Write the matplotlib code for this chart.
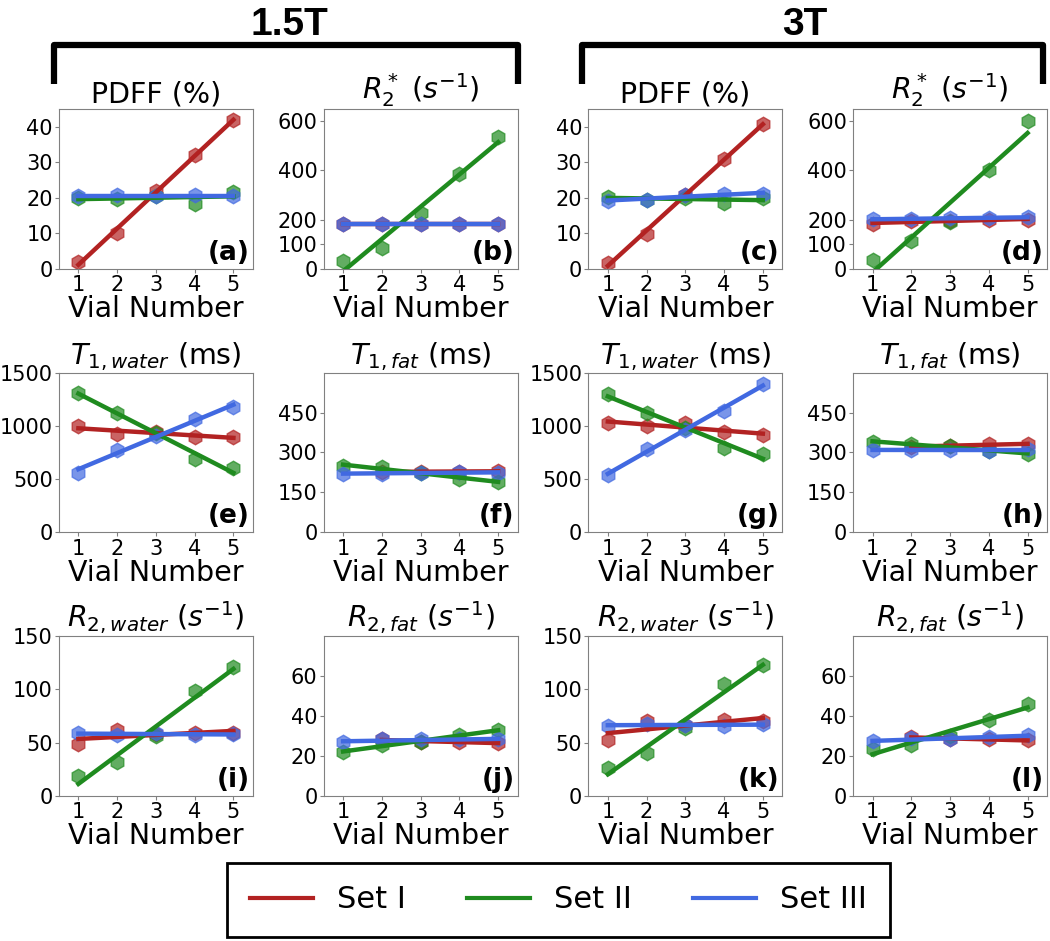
import numpy as np
import matplotlib
matplotlib.use("Agg")
import matplotlib.pyplot as plt
from matplotlib.lines import Line2D

plt.rcParams['font.family'] = ['DejaVu Sans']
plt.rcParams['mathtext.fontset'] = 'dejavusans'

# vial numbers
vials = np.array([1, 2, 3, 4, 5])
set_names = ['Set I', 'Set II', 'Set III']
set_colors = ['#b22222', '#1f8b1f', '#4169e1']

# panel titles, letters, y ranges and ticks (columns: 1.5T pdff, 1.5T r2*, 3T pdff, 3T r2*)
titles = [r'PDFF (%)', r'$R_2^*$ $(s^{-1})$', r'PDFF (%)', r'$R_2^*$ $(s^{-1})$',
          r'$T_{1,water}$ (ms)', r'$T_{1,fat}$ (ms)', r'$T_{1,water}$ (ms)', r'$T_{1,fat}$ (ms)',
          r'$R_{2,water}$ $(s^{-1})$', r'$R_{2,fat}$ $(s^{-1})$', r'$R_{2,water}$ $(s^{-1})$', r'$R_{2,fat}$ $(s^{-1})$']
letters = ['(a)', '(b)', '(c)', '(d)', '(e)', '(f)', '(g)', '(h)', '(i)', '(j)', '(k)', '(l)']
ylims = [45, 650, 45, 650, 1500, 600, 1500, 600, 150, 80, 150, 80]
yticks = [[0, 10, 20, 30, 40], [0, 100, 200, 400, 600], [0, 10, 20, 30, 40], [0, 100, 200, 400, 600],
          [0, 500, 1000, 1500], [0, 150, 300, 450], [0, 500, 1000, 1500], [0, 150, 300, 450],
          [0, 50, 100, 150], [0, 20, 40, 60], [0, 50, 100, 150], [0, 20, 40, 60]]

nan = np.nan
# measured values per panel: [Set I, Set II, Set III]
pdff_15 = [[1.8, 10.1, 21.9, 32.0, 41.9], [19.9, 19.7, 20.5, 18.3, 21.6], [20.5, 20.8, 20.5, 20.8, 20.5]]
r2s_15 = [[183, 184, 183, 184, 183], [30, 84, 225, 387, 535], [183, 183, 183, 183, 183]]
pdff_3 = [[1.6, 9.7, 20.8, 30.8, 40.9], [20.3, 19.4, 20.0, 18.6, 19.9], [19.2, 19.4, 20.8, 21.0, 21.1]]
r2s_3 = [[182, 195, 195, 200, 200], [37, 114, 189, 400, 603], [202, 202, 206, 206, 210]]
t1w_15 = [[999, 924, 940, 899, 899], [1312, 1124, 930, 686, 601], [561, 774, 908, 1062, 1174]]
t1f_15 = [[nan, 228, 227, 228, 230], [250, 244, 224, 202, 190], [221, 221, 222, 227, 224]]
t1w_3 = [[1030, 999, 1030, 946, 914], [1297, 1124, 977, 789, 733], [539, 783, 961, 1143, 1394]]
t1f_3 = [[nan, 322, 325, 330, 332], [340, 331, 324, 305, 296], [311, 309, 309, 306, 312]]
r2w_15 = [[48.6, 61.5, 58.0, 59.6, 59.0], [18.8, 32.3, 56.5, 98.2, 120.8], [59.0, 57.4, 59.0, 57.4, 58.0]]
r2f_15 = [[nan, 28.3, 27.2, 26.8, 26.7], [22.2, 25.5, 26.8, 30.5, 33.0], [26.8, 28.3, 28.3, 28.3, 28.3]]
r2w_3 = [[52.7, 70.0, 66.8, 71.0, 70.0], [26.7, 40.2, 64.3, 105.0, 122.7], [65.9, 67.8, 66.8, 65.3, 67.8]]
r2f_3 = [[nan, 29.7, 28.3, 28.3, 28.0], [23.3, 25.5, 30.0, 38.0, 46.3], [27.5, 28.8, 28.3, 29.3, 30.5]]

panels = [pdff_15, r2s_15, pdff_3, r2s_3,
          t1w_15, t1f_15, t1w_3, t1f_3,
          r2w_15, r2f_15, r2w_3, r2f_3]

fig = plt.figure(figsize=(10.5, 9.41), dpi=100)
gs = fig.add_gridspec(3, 4, left=0.0562, right=0.9971, top=0.8842, bottom=0.1541,
                      wspace=0.366, hspace=0.65)

for k, data in enumerate(panels):
    ax = fig.add_subplot(gs[k // 4, k % 4])
    for vals, c in zip(data, set_colors):
        y = np.array(vals, dtype=float)
        ok = ~np.isnan(y)
        ax.plot(vials[ok], y[ok], 'h', color=c, alpha=0.7, markersize=10.5, zorder=2)
        # linear fit through the measured points
        p = np.polyfit(vials[ok], y[ok], 1)
        ax.plot(vials[ok], np.polyval(p, vials[ok]), '-', color=c, lw=3.2, zorder=3)
    ax.set_xlim(0.5, 5.5)
    ax.set_ylim(0, ylims[k])
    ax.set_xticks(vials)
    ax.set_yticks(yticks[k])
    ax.tick_params(labelsize=15, length=3, color='#808080', pad=1.5)
    for s in ax.spines.values():
        s.set_color('#808080')
    ax.set_title(titles[k], fontsize=20.5, pad=5)
    ax.set_xlabel('Vial Number', fontsize=20.5, labelpad=0)
    ax.text(0.985, 0.02, letters[k], transform=ax.transAxes, ha='right', va='bottom',
            fontsize=19, fontweight='bold')

# brackets and field strength titles (figure pixel coords -> fraction)
W, H = 1050.0, 941.0
for x0, x1 in [(54, 518), (582, 1043)]:
    fig.add_artist(Line2D([x0 / W, x0 / W, x1 / W, x1 / W],
                          [1 - 84 / H, 1 - 45 / H, 1 - 45 / H, 1 - 84 / H],
                          color='black', lw=4.5, solid_joinstyle='round',
                          solid_capstyle='butt', transform=fig.transFigure))
fig.text(289.5 / W, 1 - 35 / H, '1.5T', ha='center', va='baseline', fontsize=28,
         fontweight='bold', family=['Liberation Sans', 'DejaVu Sans'])
fig.text(805 / W, 1 - 35 / H, '3T', ha='center', va='baseline', fontsize=28,
         fontweight='bold', family=['Liberation Sans', 'DejaVu Sans'])

handles = [Line2D([], [], color=c, lw=3) for c in set_colors]
leg = fig.legend(handles, set_names, loc='center', bbox_to_anchor=(558.5 / W, 1 - 900 / H),
                 ncol=3, fontsize=22, frameon=True, fancybox=False, edgecolor='black',
                 framealpha=1, handlelength=2.05, handletextpad=0.8, columnspacing=2.0,
                 borderpad=0.75)
leg.get_frame().set_linewidth(2)

fig.savefig('out.png', dpi=100)
